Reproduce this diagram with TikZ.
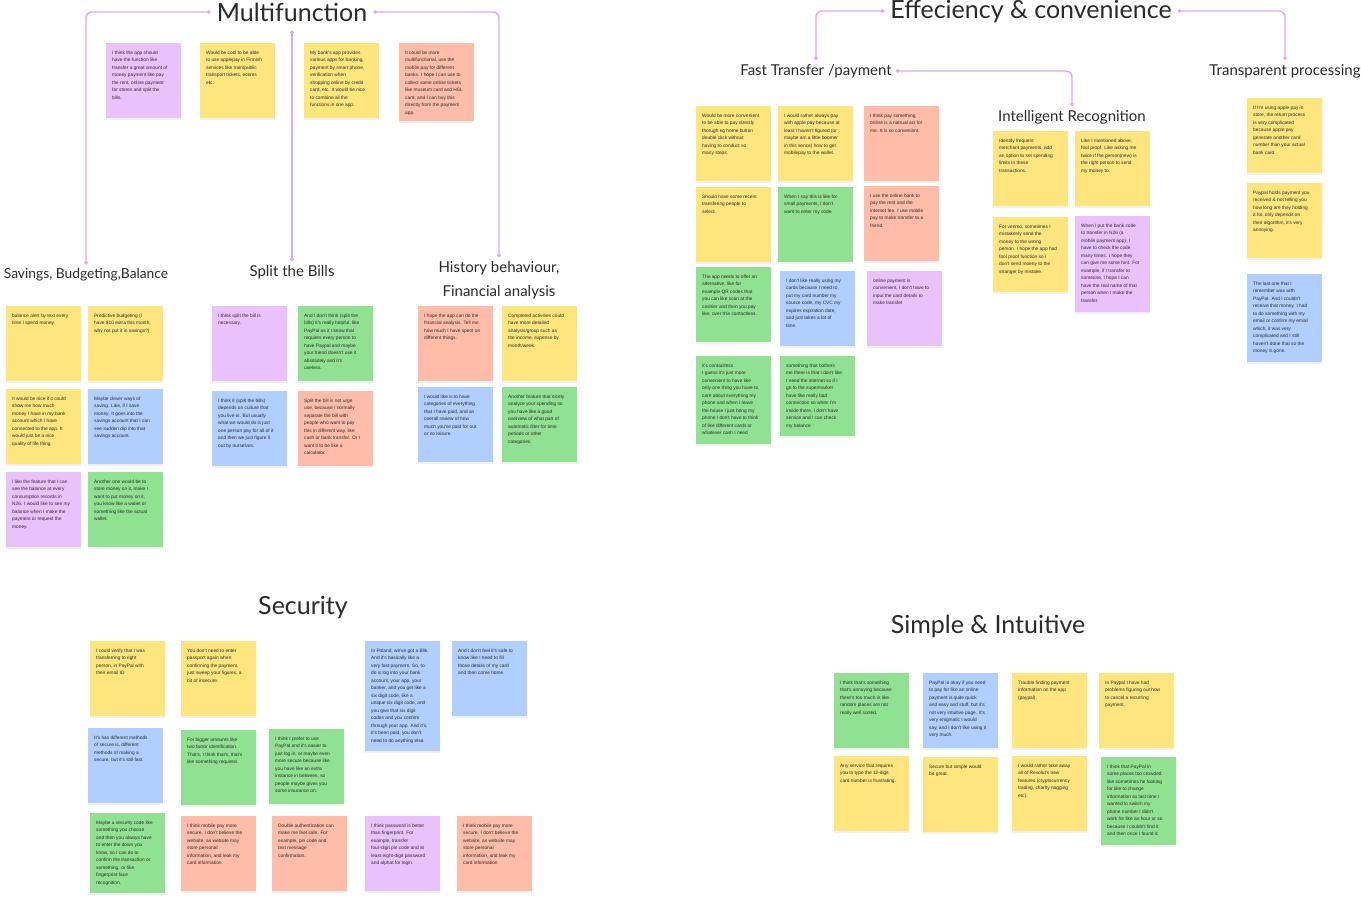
\documentclass[tikz,border=0pt]{standalone}
\usepackage{fontspec}
\usepackage{xcolor}
\usepackage{tikz}
\usetikzlibrary{arrows.meta,shadows}

\newfontfamily\notefont{Liberation Sans}
\newfontfamily\headfont{Lato}

\definecolor{noteyellow}{HTML}{FFE57E}
\definecolor{notepurple}{HTML}{E9C2FB}
\definecolor{notesalmon}{HTML}{FFBCA8}
\definecolor{notegreen}{HTML}{90E192}
\definecolor{noteblue}{HTML}{B0CEFF}
\definecolor{linkc}{HTML}{DDA8F6}
\definecolor{inkc}{HTML}{2A2A2A}

% one sticky note: [height] name, top-left corner, colour, text
\newcommand{\stickynote}[5][75]{%
  \node[note, fill=#4, minimum height=#1] (#2) at (#3) {};
  \node[notetext] (#2t) at (#2.north west) {#5};}

\begin{document}
\begin{tikzpicture}[x=1pt,y=-1pt,
  note/.style={anchor=north west, minimum width=75pt, inner sep=0pt,
    drop shadow={opacity=0.12, shadow xshift=0pt, shadow yshift=-1.5pt}},
  notetext/.style={anchor=north west, xshift=6pt, yshift=-7.5pt, inner sep=0pt,
    align=left, text=inkc, font=\notefont\fontsize{4.8}{7.5}\selectfont},
  bigtitle/.style={inner sep=6pt, text=inkc, font=\headfont\fontsize{25}{28}\selectfont},
  subtitle/.style={inner sep=4pt, text=inkc, font=\headfont\fontsize{15}{24}\selectfont},
  branch/.style={draw=linkc, line width=1.4pt, rounded corners=6pt,
    {Circle[length=3.5pt]}-{Circle[length=3.5pt]}}]
  \useasboundingbox (0,0) rectangle (1361,899);

  % headings
  \node[bigtitle] (multi) at (292,12) {Multifunction};
  \node[bigtitle] (effic) at (1031,11) {Effeciency \& convenience};
  \node[bigtitle] (secur) at (303,608) {Security};
  \node[bigtitle] (simple) at (988,626) {Simple \& Intuitive};
  \node[subtitle, font=\headfont\fontsize{13.8}{24}\selectfont] (saving) at (86,275) {Savings, Budgeting,Balance};
  \node[subtitle] (split) at (292,272) {Split the Bills};
  \node[subtitle, align=center] (hist) at (499,280) {History behaviour,\\Financial analysis};
  \node[subtitle] (fast) at (816,71) {Fast Transfer /payment};
  \node[subtitle] (transp) at (1285,71) {Transparent processing};
  \node[subtitle] (intel) at (1072,117) {Intelligent Recognition};

  % branches
  \draw[branch] (multi.west) -| (saving.north);
  \draw[branch] (multi.east) -| (hist.north);
  \draw[branch, shorten <=3pt] (multi.south) -- (split.north);
  \draw[branch] (effic.west) -| (fast.north);
  \draw[branch] (effic.east) -| (transp.north);
  \draw[branch] (fast.east) -| (intel.north);

  % multifunction
  \stickynote{m1}{106,43}{notepurple}{I think the app should\\have the function like\\transfer a great amount of\\money payment like pay\\the rent, online payment\\for stores and split the\\bills.}
  \stickynote{m2}{200,43}{noteyellow}{Would be cool to be able\\to use applepay in Finnish\\services like train/public\\transport tickets, ecoms\\etc.}
  \stickynote{m3}{304,43}{noteyellow}{My bank's app provides\\various apps for banking,\\payment by smart phone,\\verification when\\shopping online by credit\\card, etc. It would be nice\\to combine all the\\functions in one app.}
  \stickynote[78]{m4}{399,43}{notesalmon}{It could be more\\multifunctional, use the\\mobile pay for different\\banks. I hope I can use to\\collect some online tickets\\like museum card and HSL\\card, and I can buy this\\directly from the payment\\app.}

  % savings
  \stickynote{s1}{6,306}{noteyellow}{balance alert by text every\\time I spend money.}
  \stickynote{s2}{88,306}{noteyellow}{Predictive budgeting (I\\have \$10 extra this month,\\why not put it in savings?)}
  \stickynote{s3}{6,389}{noteyellow}{It would be nice if it could\\show me how much\\money I have in my bank\\account which I have\\connected to the app. It\\would just be a nice\\quality of life thing}
  \stickynote{s4}{88,389}{noteblue}{Maybe clever ways of\\saving. Like, if I save\\money. It goes into the\\savings account that I can\\see sudden dip into that\\savings account.}
  \stickynote{s5}{6,472}{notepurple}{I like the feature that I can\\see the balance at every\\consumption records in\\N26. I would like to see my\\balance when I make the\\payment or request the\\money.}
  \stickynote{s6}{88,472}{notegreen}{Another one would be to\\store money on it, make I\\want to put money on it,\\you know like a wallet or\\something like the actual\\wallet.}

  % split the bills
  \stickynote{b1}{212,306}{notepurple}{I think split the bill is\\necessary.}
  \stickynote{b2}{298,306}{notegreen}{And I don't think (split the\\bills) it's really helpful, like\\PayPal as it I know that\\requires every person to\\have Paypal and maybe\\your friend doesn't use it\\absolutely and it's\\useless.}
  \stickynote{b3}{212,391}{noteblue}{I think it (split the bills)\\depends on culture that\\you live in. But usually\\what we would do is just\\one person pay for all of it\\and then we just figure it\\out by ourselves.}
  \stickynote{b4}{298,391}{notesalmon}{Split the bill is not urge\\use, because I normally\\separate the bill with\\people who want to pay\\this in different way, like\\cash or bank transfer. Or I\\want it to be like a\\calculator.}

  % history
  \stickynote{h1}{418,306}{notesalmon}{I hope the app can do the\\financial analysis. Tell me\\how much I have spent on\\different things.}
  \stickynote{h2}{502,306}{noteyellow}{Completed activities could\\have more detailed\\analysis/group such as\\the income, expense by\\month/week.}
  \stickynote{h3}{418,387}{noteblue}{I would like is to have\\categories of everything\\that I have paid, and an\\overall review of how\\much you've paid for out\\or no leisure.}
  \stickynote{h4}{502,387}{notegreen}{Another feature that nicely\\analyze your spending so\\you have like a good\\overview of what part of\\automatic filter for time\\periods or other\\categories.}

  % fast transfer
  \stickynote{f1}{696,106}{noteyellow}{Would be more convenient\\to be able to pay directly\\thorugh eg home button\\double click without\\having to conduct so\\many steps.}
  \stickynote{f2}{778,106}{noteyellow}{I would rather always pay\\with apple pay because at\\least I haven't figured (or\\maybe am a little boomer\\in this sence) how to get\\mobilepay to the wallet.}
  \stickynote{f3}{864,106}{notesalmon}{I think pay something\\online is a natrual act for\\me. It is so convenient.}
  \stickynote{f4}{696,187}{noteyellow}{Should have some recent\\transfering people to\\select.}
  \stickynote{f5}{778,187}{notegreen}{When I say this is like for\\small payments, I don't\\want to enter my code.}
  \stickynote{f6}{864,186}{notesalmon}{I use the online bank to\\pay the rent and the\\internet fee. I use mobile\\pay to make transfer to a\\friend.}
  \stickynote{f7}{696,267}{notegreen}{The app needs to offer an\\alternative, like for\\example QR codes that\\you can like scan at the\\cashier and then you pay\\like, over this contactless.}
  \stickynote{f8}{780,271}{noteblue}{I don't like really using my\\cards because I need to\\put my card number my\\source code, my CVC my\\expires expiration date,\\and just takes a lot of\\time.}
  \stickynote{f9}{867,271}{notepurple}{online payment is\\convenient, I don't have to\\input the card details to\\make transfer}
  \stickynote[88]{f10}{696,356}{notegreen}{it's contactless\\I guess it's just more\\convenient to have like\\only one thing you have to\\care about everything my\\phone and when I leave\\the house I just bring my\\phone I don't have to think\\of like different cards or\\whatever cash I need}
  \stickynote[80]{f11}{780,356}{notegreen}{something that bothers\\me there is that I don't like\\I need the internet so if I\\go to the supermarket\\have like really bad\\connection so when I'm\\inside there, I don't have\\service and I can check\\my balance}

  % intelligent recognition
  \stickynote{i1}{993,131}{noteyellow}{Identify frequent\\merchant payments, add\\an option to set spending\\limits in these\\transactions.}
  \stickynote{i2}{1075,131}{noteyellow}{Like I mentioned above,\\fool proof. Like asking me\\twice if the person(new) is\\the right person to send\\my money to.}
  \stickynote{i3}{993,217}{noteyellow}{For venmo, sometimes I\\mistakenly send the\\money to the wrong\\person. I hope the app had\\fool proof function so I\\don't send moeny to the\\stranger by mistake.}
  \stickynote[96]{i4}{1075,216}{notepurple}{When I put the bank code\\to transfer in N26 (a\\mobile payment app), I\\have to check the code\\many times. I hope they\\can give me some hint. For\\example, if I transfer to\\someone, I hope I can\\have the real name of that\\person when I make the\\transfer.}

  % transparent processing
  \stickynote{t1}{1247,98}{noteyellow}{If I'm using apple pay in\\store, the return process\\is very complicated\\because apple pay\\generate another card\\number than your actual\\bank card.}
  \stickynote{t2}{1247,183}{noteyellow}{Paypal holds payment you\\received \& not telling you\\how long are they holding\\it for, only depends on\\their algorithm, it's very\\annoying.}
  \stickynote[88]{t3}{1247,274}{noteblue}{The last one that I\\remember was with\\PayPal. And I couldn't\\receive that money. I had\\to do something with my\\email or confirm my email\\which, it was very\\complicated and I still\\haven't done that so the\\money is gone.}

  % security
  \stickynote{c1}{90,641}{noteyellow}{I could verify that I was\\transferring to right\\person, in PayPal with\\their email ID}
  \stickynote{c2}{181,641}{noteyellow}{You don't need to enter\\passport again when\\confirming the payment,\\just sweep your figures, a\\bit of insecure.}
  \stickynote{c3}{88,728}{noteblue}{It's has different methods\\of secure is, different\\methods of making a\\secure, but it's still fast.}
  \stickynote{c4}{181,730}{notegreen}{For bigger amounts like\\two factor identification.\\That's, I think that's, that's\\like something required.}
  \stickynote[80]{c5}{90,813}{notegreen}{Maybe a security code like\\something you choose\\and then you always have\\to enter the down you\\know, so I can do to\\confirm the transaction or\\something. or like\\fingerprint face\\recognition.}
  \stickynote{c6}{181,816}{notesalmon}{I think mobile pay more\\secure. I don't believe the\\website, as website may\\store personal\\information, and leak my\\card information}
  \stickynote[110]{c7}{365,641}{noteblue}{In Poland, we've got a Blik.\\And it's basically like a\\very fast payment. So, to\\do is log into your bank\\account, your app, your\\banker, and you get like a\\six digit code, like a\\unique six digit code, and\\you give that six digit\\codes and you confirm\\through your app. And it's,\\it's been paid, you don't\\need to do anything else.}
  \stickynote{c8}{452,641}{noteblue}{And I don't feel it's safe to\\know like I need to fill\\those details of my card\\and then come home.}
  \stickynote{c9}{269,729}{notegreen}{I think I prefer to use\\PayPal and it's easier to\\just log in, or maybe even\\more secure because like\\you have like an extra\\instance in between, so\\people maybe gives you\\some insurance on.}
  \stickynote{c10}{272,816}{notesalmon}{Double authentication can\\make me feel safe. For\\example, pin code and\\text message\\confirmation.}
  \stickynote{c11}{365,816}{notepurple}{I think password is better\\than fingerprint. For\\example, transfer\\four-digit pin code  and at\\least eight-digit password\\and alphat for login.}
  \stickynote{c12}{457,816}{notesalmon}{I think mobile pay more\\secure. I don't believe the\\website, as website may\\store personal\\information, and leak my\\card information}

  % simple & intuitive
  \stickynote{p1}{834,673}{notegreen}{I think that's something\\that's annoying because\\there's too much in like\\random places are not\\really well sorted.}
  \stickynote{p2}{923,673}{noteblue}{PayPal is okay if you need\\to pay for like an online\\payment is quite quick\\and easy and stuff, but it's\\not very intuitive page. It's\\very enigmatic I would\\say, and I don't like using it\\very much.}
  \stickynote{p3}{1012,673}{noteyellow}{Trouble finding payment\\information on the app\\(paypal).}
  \stickynote{p4}{1099,673}{noteyellow}{In Paypal I have had\\problems figuring out how\\to cancel a recurring\\payment.}
  \stickynote{p5}{834,756}{noteyellow}{Any service that requires\\you to type the 12-digit\\card number is frustrating.}
  \stickynote{p6}{923,757}{noteyellow}{Secure but simple would\\be great.}
  \stickynote{p7}{1012,756}{noteyellow}{I would rather take away\\all of Revolut's new\\features (cryptocurrency\\trading, charity nagging\\etc).}
  \stickynote[88]{p8}{1101,757}{notegreen}{I think that PayPal in\\some places too crowded\\like sometimes he looking\\for like to change\\information so last time I\\wanted to switch my\\phone number I didn't\\work for like an hour or so\\because I couldn't find it\\and then once I found it.}
\end{tikzpicture}
\end{document}
